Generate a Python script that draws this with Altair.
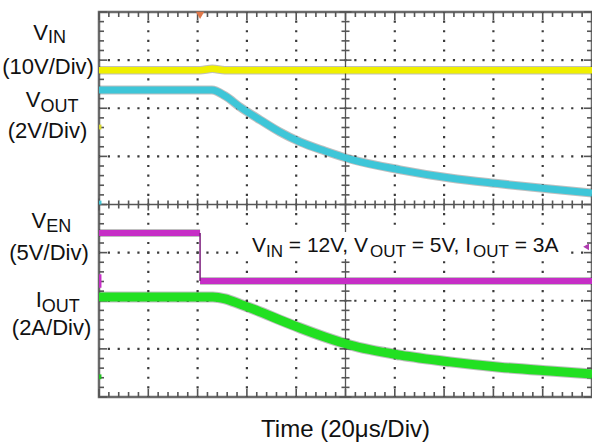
import altair as alt
import pandas as pd
import numpy as np

# ---------------- data (oscilloscope divisions: x 0..10, y 0..8) ----------------
vin_x = [0, 2.05, 2.3, 2.55, 10]
vin_y = [6.79, 6.79, 6.82, 6.79, 6.79]

vout_x = [0, 2.29, 2.56, 2.86, 3.27, 3.67, 4.08, 4.58, 5.09, 6.11, 7.12, 8.13, 9.15, 10]
vout_y = [6.38, 6.38, 6.255, 6.026, 5.756, 5.506, 5.299, 5.112, 4.945, 4.72, 4.55, 4.43, 4.32, 4.24]

ven_x = [0, 2.05, 2.05, 10]
ven_y = [3.41, 3.41, 2.41, 2.41]
ven_seg = ["high", "high", "low", "low"]

iout_x = [0, 2.31, 2.56, 2.86, 3.27, 3.67, 4.08, 4.58, 5.09, 6.11, 7.12, 8.13, 9.15, 10]
iout_y = [2.08, 2.08, 2.04, 1.93, 1.77, 1.60, 1.434, 1.247, 1.081, 0.87, 0.73, 0.62, 0.54, 0.48]

ch_labels = ["V", "V", "V", "I"]
ch_subs = ["IN", "OUT", "EN", "OUT"]
ch_scales = ["(10V/Div)", "(2V/Div)", "(5V/Div)", "(2A/Div)"]
x_title = "Time (20\u03bcs/Div)"
note_parts = ["V", "IN", "= 12V, V", "OUT", "= 5V, I", "OUT", "= 3A"]

# ---------------- layout helpers ----------------
W, H = 493, 385
XS = alt.Scale(domain=[0, 10], nice=False, zero=False)
YS = alt.Scale(domain=[0, 8], nice=False, zero=False)
FONT = "Liberation Sans, Arial, Helvetica, sans-serif"
px_x = 10 / W
px_y = 8 / H


def X(f="x"):
    return alt.X(f"{f}:Q", scale=XS, axis=None)


def Y(f="y"):
    return alt.Y(f"{f}:Q", scale=YS, axis=None)


layers = []

# dotted grid
vg = pd.DataFrame({"x": [1, 2, 3, 4, 6, 7, 8, 9]})
vg["y"] = 0.0
vg["y2"] = 8.0
layers.append(alt.Chart(vg).mark_rule(color="#3a3a3a", strokeWidth=2.2, strokeDash=[2.2, 7.425],
                                      strokeDashOffset=1.1, strokeCap="butt").encode(
    x=X(), y=Y(), y2="y2:Q"))
hg = pd.DataFrame({"y": [1, 2, 3, 5, 6, 7]})
hg["x"] = 0.0
hg["x2"] = 10.0
layers.append(alt.Chart(hg).mark_rule(color="#3a3a3a", strokeWidth=2.2, strokeDash=[2.2, 7.66],
                                      strokeDashOffset=1.1, strokeCap="butt").encode(
    x=X(), x2="x2:Q", y=Y()))

# center solid lines
cl = pd.DataFrame({"x": [5.0, 0.0], "x2": [5.0, 10.0], "y": [0.0, 4.0], "y2": [8.0, 4.0]})
layers.append(alt.Chart(cl).mark_rule(color="#555555", strokeWidth=1.3).encode(
    x=X(), x2="x2:Q", y=Y(), y2="y2:Q"))

# tick marks (frame + center cross)
rows = []
for v in np.round(np.arange(0, 10.001, 0.2), 3):
    major = abs(v - round(v)) < 1e-6
    L = (8 if major else 5) * px_y
    rows.append((v, v, 0, L))
    rows.append((v, v, 8 - L, 8))
    c = (6 if major else 4) * px_y
    rows.append((v, v, 4 - c, 4 + c))
for v in np.round(np.arange(0, 8.001, 0.2), 3):
    major = abs(v - round(v)) < 1e-6
    L = (8 if major else 5) * px_x
    rows.append((0, L, v, v))
    rows.append((10 - L, 10, v, v))
    c = (6 if major else 4) * px_x
    rows.append((5 - c, 5 + c, v, v))
tk = pd.DataFrame(rows, columns=["x", "x2", "y", "y2"])
layers.append(alt.Chart(tk).mark_rule(color="#555555", strokeWidth=1.6).encode(
    x=X(), x2="x2:Q", y=Y(), y2="y2:Q"))

# white box behind annotation
box = pd.DataFrame({"x": [2.92], "x2": [9.47], "y": [2.87], "y2": [3.43]})
layers.append(alt.Chart(box).mark_rect(color="white").encode(x=X(), x2="x2:Q", y=Y(), y2="y2:Q"))


def trace(xs, ys, color, w, interp="monotone", detail=None):
    df = pd.DataFrame({"x": xs, "y": ys})
    enc = dict(x=X(), y=Y())
    if detail is not None:
        df["seg"] = detail
        enc["detail"] = "seg:N"
    under = alt.Chart(df).mark_line(color="#2a2a2a", strokeWidth=w + 2, opacity=0.3,
                                    interpolate=interp).encode(**enc)
    over = alt.Chart(df).mark_line(color=color, strokeWidth=w, interpolate=interp).encode(**enc)
    return [under, over]


layers += trace(vin_x, vin_y, "#f0f000", 6.5)
layers += trace(vout_x, vout_y, "#3ec6d8", 7)
# VEN: level segments + thin falling edge
layers += trace(ven_x, ven_y, "#c62ec6", 6, interp="linear", detail=ven_seg)
edge = pd.DataFrame({"x": [ven_x[1]], "y": [ven_y[2]], "y2": [ven_y[1]]})
layers.append(alt.Chart(edge).mark_rule(color="#7a1a7a", strokeWidth=1.5).encode(x=X(), y=Y(), y2="y2:Q"))
layers += trace(iout_x, iout_y, "#22e022", 9)

# channel ground markers on left edge
gm = pd.DataFrame({"x": [0, 0, 0, 0], "x2": [0.05, 0.05, 0.05, 0.05],
                   "y": [5.56, 4.0, 2.27, 0.37], "y2": [5.66, 4.08, 2.55, 0.47],
                   "c": ["#d8d830", "#3ec6d8", "#c62ec6", "#22c022"]})
layers.append(alt.Chart(gm).mark_rect().encode(x=X(), x2="x2:Q", y=Y(), y2="y2:Q",
                                               color=alt.Color("c:N", scale=None)))

# trigger markers
trg = pd.DataFrame({"x": [2.05], "y": [7.93]})
layers.append(alt.Chart(trg).mark_point(shape="triangle-down", filled=True, color="#e0784a",
                                        size=70, opacity=1).encode(x=X(), y=Y()))
lvl = pd.DataFrame({"x": [9.88], "y": [3.12]})
layers.append(alt.Chart(lvl).mark_point(shape="triangle-left", filled=True, color="#b03cb0",
                                        size=45, opacity=1).encode(x=X(), y=Y()))

# left channel labels
main_x = [-1.034, -1.187, -1.071, -1.160]
main_y = [7.418, 6.026, 3.512, 1.870]
sub_y = [7.356, 5.922, 3.429, 1.766]
scale_x = [-1.034, -1.045, -1.014, -0.963]
scale_y = [6.71, 5.38, 2.847, 1.288]
lab = pd.DataFrame({"x": main_x, "y": main_y, "t": ch_labels})
sub = pd.DataFrame({"x": main_x, "y": sub_y, "t": ch_subs})
scl = pd.DataFrame({"x": scale_x, "y": scale_y, "t": ch_scales})
layers.append(alt.Chart(lab).mark_text(align="right", baseline="alphabetic", fontSize=22, font=FONT,
                                       color="#111").encode(x=X(), y=Y(), text="t:N"))
layers.append(alt.Chart(sub).mark_text(align="left", baseline="alphabetic", fontSize=18, font=FONT,
                                       color="#111").encode(x=X(), y=Y(), text="t:N"))
layers.append(alt.Chart(scl).mark_text(align="center", baseline="alphabetic", fontSize=22, font=FONT,
                                       color="#111").encode(x=X(), y=Y(), text="t:N"))

# annotation with subscripts (segment start positions, leading spaces folded into x)
note_x = [3.103, 3.387, 3.850, 5.497, 6.343, 7.586, 8.432]
note_is_sub = [False, True, False, True, False, True, False]
nm = pd.DataFrame({"x": [x for x, s in zip(note_x, note_is_sub) if not s],
                   "t": [t for t, s in zip(note_parts, note_is_sub) if not s]})
nm["y"] = 3.013
ns = pd.DataFrame({"x": [x for x, s in zip(note_x, note_is_sub) if s],
                   "t": [t for t, s in zip(note_parts, note_is_sub) if s]})
ns["y"] = 2.909
layers.append(alt.Chart(nm).mark_text(align="left", baseline="alphabetic", fontSize=21, font=FONT,
                                      color="#111").encode(x=X(), y=Y(), text="t:N"))
layers.append(alt.Chart(ns).mark_text(align="left", baseline="alphabetic", fontSize=17, font=FONT,
                                      color="#111").encode(x=X(), y=Y(), text="t:N"))

# x title
tt = pd.DataFrame({"x": [5.0], "y": [-0.831], "t": [x_title]})
layers.append(alt.Chart(tt).mark_text(align="center", baseline="alphabetic", fontSize=24, font=FONT,
                                      color="#111").encode(x=X(), y=Y(), text="t:N"))

chart = alt.layer(*layers).properties(
    width=W, height=H, autosize="none",
    padding={"left": 99, "top": 12, "right": 0, "bottom": 49},
    background="white",
).configure_view(stroke="#6a6a6a", strokeWidth=2.5)

chart.save("out.html", embed_options={"renderer": "svg", "actions": False})
